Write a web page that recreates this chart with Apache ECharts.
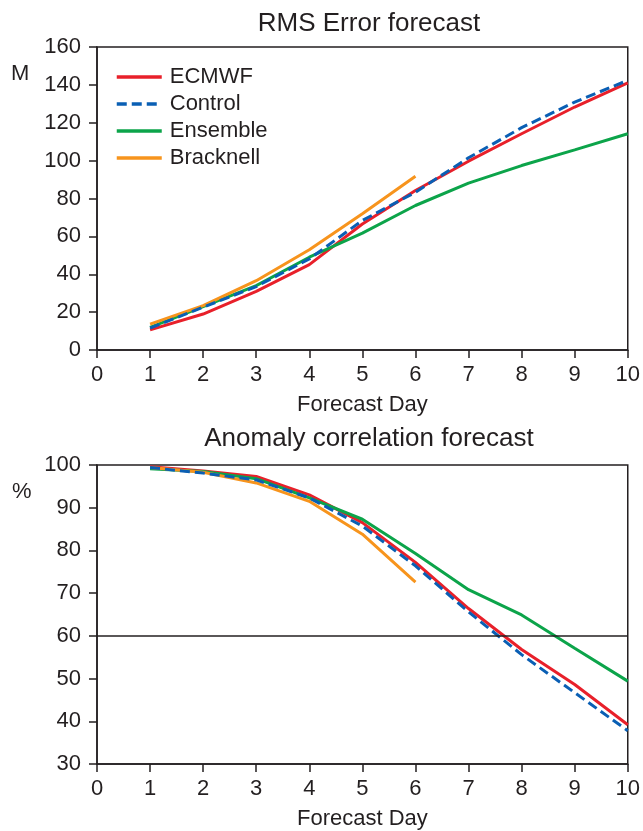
<!DOCTYPE html>
<html>
<head>
<meta charset="utf-8">
<script src="https://cdn.jsdelivr.net/npm/echarts@6/dist/echarts.min.js"></script>
<style>
  html, body { margin: 0; padding: 0; background: #fff; }
  #chart { width: 643px; height: 831px; }
</style>
</head>
<body>
<div id="chart"></div>
<script>
  const days = [1, 2, 3, 4, 5, 6, 7, 8, 9, 10];
  const seriesNames = ["ECMWF", "Control", "Ensemble", "Bracknell"];

  // RMS error (M)
  const rmsEcmwf = [10.6, 19.0, 31.0, 45.1, 66.5, 84.2, 99.7, 114.2, 128.3, 141.0];
  const rmsControl = [11.6, 22.6, 33.5, 48.1, 68.4, 83.3, 101.5, 117.4, 130.9, 142.4];
  const rmsEnsemble = [12.0, 22.9, 34.0, 49.0, 61.7, 76.3, 88.1, 97.4, 105.7, 114.2];
  const rmsBracknell = [13.7, 23.4, 36.6, 52.9, 71.9, 91.8];

  // Anomaly correlation (%)
  const acEcmwf = [99.6, 98.6, 97.3, 93.0, 86.5, 77.2, 66.4, 56.8, 48.6, 39.2];
  const acControl = [99.4, 98.1, 96.5, 92.3, 85.7, 76.4, 65.6, 55.6, 46.7, 37.8];
  const acEnsemble = [99.1, 98.5, 96.8, 92.3, 87.3, 79.3, 70.8, 64.9, 57.1, 49.4];
  const acBracknell = [99.4, 98.3, 95.8, 91.5, 83.8, 72.6];
  const acThreshold = 60;

  const ink = "#231f20";
  const font = "'Liberation Sans', Arial, Helvetica, sans-serif";
  const colors = ["#e8202a", "#0a5fb4", "#0ca44a", "#f7941d"];
  const styles = ["solid", [10, 5], "solid", "solid"];

  const chart = echarts.init(document.getElementById("chart"));

  function pairs(values) { return values.map((v, i) => [days[i], v]); }

  function lineSeries(index, data, axis) {
    return {
      name: seriesNames[index], type: "line", data: pairs(data),
      xAxisIndex: axis, yAxisIndex: axis,
      symbol: "none", smooth: false, z: index === 1 ? 4 : 3,
      lineStyle: { color: colors[index], width: 3, type: styles[index] },
      itemStyle: { color: colors[index] }
    };
  }

  function xAxis(gridIndex) {
    return {
      type: "value", gridIndex, min: 0, max: 10, interval: 1,
      name: "Forecast Day", nameLocation: "middle", nameGap: 44,
      nameTextStyle: { color: ink, fontSize: 22, fontFamily: font },
      axisLine: { lineStyle: { color: ink, width: 1.5 } },
      axisTick: { length: 8, lineStyle: { color: ink, width: 1.5 } },
      axisLabel: { color: ink, fontSize: 22, fontFamily: font, margin: 14 },
      splitLine: { show: false }
    };
  }

  function yAxis(gridIndex, min, max, interval) {
    return {
      type: "value", gridIndex, min, max, interval,
      axisLine: { show: true, lineStyle: { color: ink, width: 1.5 } },
      axisTick: { show: true, length: 8, lineStyle: { color: ink, width: 1.5 } },
      axisLabel: { color: ink, fontSize: 22, fontFamily: font, margin: 16 },
      splitLine: { show: false }
    };
  }

  const bottomSeries = [
    lineSeries(0, acEcmwf, 1), lineSeries(1, acControl, 1),
    lineSeries(2, acEnsemble, 1), lineSeries(3, acBracknell, 1)
  ];
  bottomSeries[0].markLine = {
    silent: true, symbol: "none", label: { show: false },
    lineStyle: { color: ink, width: 1.5, type: "solid" },
    data: [{ yAxis: acThreshold }]
  };

  chart.setOption({
    animation: false,
    title: [
      { text: "RMS Error forecast", left: 364, top: 6, textAlign: "center",
        textStyle: { color: ink, fontSize: 26, fontWeight: "normal", fontFamily: font } },
      { text: "Anomaly correlation forecast", left: 364, top: 421, textAlign: "center",
        textStyle: { color: ink, fontSize: 26, fontWeight: "normal", fontFamily: font } }
    ],
    legend: {
      data: seriesNames, orient: "vertical", left: 110, top: 61,
      itemWidth: 45, itemHeight: 12, itemGap: 5,
      itemStyle: { color: "transparent", borderWidth: 0 },
      lineStyle: { width: 3.5 },
      textStyle: { color: ink, fontSize: 22, fontFamily: font, padding: [0, 0, 0, 3] }
    },
    grid: [
      { left: 97, right: 13, top: 47, height: 303, show: true, borderColor: ink, borderWidth: 1.5 },
      { left: 97, right: 13, top: 465, height: 303, show: true, borderColor: ink, borderWidth: 1.5 }
    ],
    xAxis: [xAxis(0), xAxis(1)],
    yAxis: [yAxis(0, 0, 160, 20), yAxis(1, 30, 100, 10)],
    graphic: [
      { type: "text", left: 11, top: 63, style: { text: "M", fill: ink, font: `22px ${font}` } },
      { type: "text", left: 12, top: 481, style: { text: "%", fill: ink, font: `22px ${font}` } }
    ],
    series: [
      lineSeries(0, rmsEcmwf, 0), lineSeries(1, rmsControl, 0),
      lineSeries(2, rmsEnsemble, 0), lineSeries(3, rmsBracknell, 0),
      ...bottomSeries
    ]
  });
</script>
</body>
</html>
